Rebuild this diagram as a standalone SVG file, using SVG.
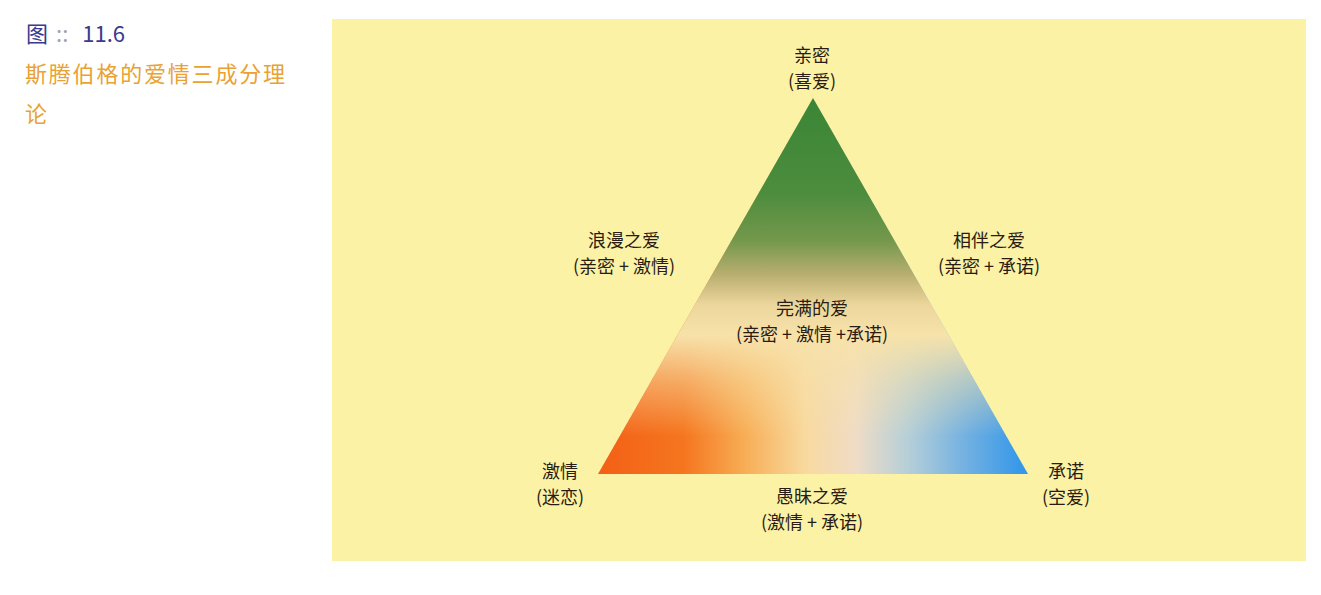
<svg xmlns="http://www.w3.org/2000/svg" width="1321" height="595" viewBox="0 0 1321 595">
<defs>
<style>
.lbl{font-family:"Noto Sans CJK SC","Noto Sans",sans-serif;font-size:18px;fill:#2a1c12;text-anchor:middle}
.cap{font-family:"Noto Sans CJK SC","Noto Sans",sans-serif;font-size:22px}
</style>
<linearGradient id="hz" gradientUnits="userSpaceOnUse" x1="598" y1="0" x2="1028" y2="0">
<stop offset="0" stop-color="#f35f16"/>
<stop offset="0.2" stop-color="#f5761f"/>
<stop offset="0.34" stop-color="#f7ad55"/>
<stop offset="0.48" stop-color="#f8d99e"/>
<stop offset="0.6" stop-color="#efdcc6"/>
<stop offset="0.72" stop-color="#b6cfd8"/>
<stop offset="0.86" stop-color="#70b0e2"/>
<stop offset="1" stop-color="#2f95ea"/>
</linearGradient>
<linearGradient id="vt" gradientUnits="userSpaceOnUse" x1="0" y1="98" x2="0" y2="474">
<stop offset="0" stop-color="#3a8636"/>
<stop offset="0.25" stop-color="#4c8c3d"/>
<stop offset="0.38" stop-color="#74984c"/>
<stop offset="0.47" stop-color="#b9ae70"/>
<stop offset="0.55" stop-color="#ecd69c"/>
<stop offset="0.63" stop-color="#f7e2aa" stop-opacity="1"/>
<stop offset="0.75" stop-color="#f7e2aa" stop-opacity="0.5"/>
<stop offset="0.9" stop-color="#f7e2aa" stop-opacity="0"/>
</linearGradient>
</defs>
<rect width="1321" height="595" fill="#ffffff"/>
<g id="caption">
<text class="cap" x="26" y="42"><tspan fill="#3a3a8e">图</tspan><tspan fill="#a0a0bc" dx="8">::</tspan><tspan fill="#3a3a8e" dx="14">11.6</tspan></text>
<text class="cap" x="25" y="82" fill="#e9a233" textLength="260">斯腾伯格的爱情三成分理</text>
<text class="cap" x="25" y="122" fill="#e9a233">论</text>
</g>
<rect id="panel" x="332" y="19" width="974" height="542" fill="#fbf2a6"/>
<g id="triangle">
<polygon points="813,98 598,474 1028,474" fill="url(#hz)"/>
<polygon points="813,98 598,474 1028,474" fill="url(#vt)"/>
</g>
<g id="connectors"></g>
<g id="intimacy"><text class="lbl" x="812" y="62">亲密</text><text class="lbl" x="812" y="88">(喜爱)</text></g>
<g id="romantic"><text class="lbl" x="624" y="247">浪漫之爱</text><text class="lbl" x="624" y="273">(亲密 + 激情)</text></g>
<g id="companionate"><text class="lbl" x="989" y="247">相伴之爱</text><text class="lbl" x="989" y="273">(亲密 + 承诺)</text></g>
<g id="consummate"><text class="lbl" x="812" y="315">完满的爱</text><text class="lbl" x="812" y="341">(亲密 + 激情 +承诺)</text></g>
<g id="passion"><text class="lbl" x="560" y="478">激情</text><text class="lbl" x="560" y="504">(迷恋)</text></g>
<g id="commitment"><text class="lbl" x="1066" y="478">承诺</text><text class="lbl" x="1066" y="504">(空爱)</text></g>
<g id="fatuous"><text class="lbl" x="812" y="503">愚昧之爱</text><text class="lbl" x="812" y="529">(激情 + 承诺)</text></g>
</svg>
